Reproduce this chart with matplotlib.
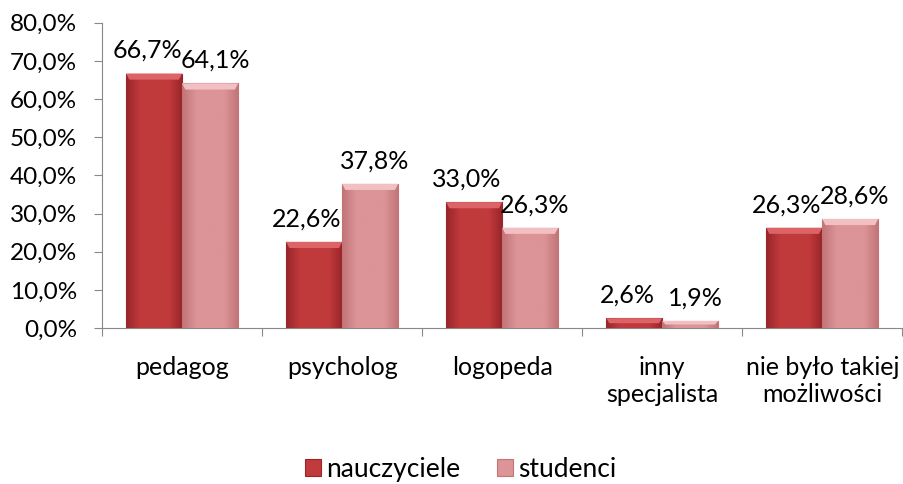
import numpy as np
import matplotlib.pyplot as plt
from matplotlib.ticker import FuncFormatter
from matplotlib.colors import LinearSegmentedColormap

plt.rcParams['font.family'] = ['Lato', 'DejaVu Sans']

kategorie = ['pedagog', 'psycholog', 'logopeda', 'inny\nspecjalista', 'nie było takiej\nmożliwości']
nauczyciele = [66.7, 22.6, 33.0, 2.6, 26.3]
studenci = [64.1, 37.8, 26.3, 1.9, 28.6]

fig = plt.figure(figsize=(9.04, 4.84), dpi=100)
ax = fig.add_axes([0.113, 0.322, 0.885, 0.631])

x = np.arange(len(kategorie))
w = 0.35

# (kolor glowny, kolor brzegu, kolor fazy u gory, przesuniecie etykiety)
style = [('#c13a3c', '#98262a', '#dc6466', -0.045),
         ('#dc9497', '#c27477', '#f2c0c2', 0.03)]
serie = [(nauczyciele, 'nauczyciele'), (studenci, 'studenci')]

grad = np.concatenate([np.linspace(0, 1, 20), np.linspace(1, 0, 20)])[None, :]

for k, (seria, nazwa) in enumerate(serie):
    kol, brzeg, jasny, dx = style[k]
    cmap = LinearSegmentedColormap.from_list('g%d' % k, [brzeg, kol, kol])
    pos = x - w / 2 + k * w
    bary = ax.bar(pos, seria, width=w, color=kol, edgecolor=brzeg, linewidth=0.8,
                  label=nazwa, zorder=3)
    for b in bary:
        x0, y0 = b.get_x(), b.get_y()
        bw, bh = b.get_width(), b.get_height()
        im = ax.imshow(grad, cmap=cmap, extent=(x0, x0 + bw, y0, y0 + bh),
                       aspect='auto', zorder=3.5, interpolation='bicubic')
        im.set_clip_path(b)
        # faza u gory slupka
        fz = min(1.6, bh * 0.5)
        ins = 0.02
        ax.fill([x0, x0 + bw, x0 + bw - ins, x0 + ins],
                [y0 + bh, y0 + bh, y0 + bh - fz, y0 + bh - fz],
                color=jasny, linewidth=0, zorder=4)
    for p, v in zip(pos, seria):
        ax.text(p + dx, v + 3.0, f'{v:.1f}%'.replace('.', ','), ha='center', va='bottom',
                fontsize=18, zorder=5)

ax.set_xlim(-0.5, len(kategorie) - 0.5)
ax.set_ylim(0, 80)
ax.set_yticks(np.arange(0, 81, 10))
ax.yaxis.set_major_formatter(FuncFormatter(lambda v, p: f'{v:.1f}%'.replace('.', ',')))
ax.set_xticks(np.arange(-0.5, len(kategorie), 1))
ax.set_xticklabels([])
ax.set_xticks(x, minor=True)
ax.set_xticklabels(kategorie, minor=True, fontsize=18, linespacing=1.2)
ax.tick_params(axis='x', which='minor', length=0, pad=20)
ax.tick_params(axis='x', which='major', length=6, color='#888888', direction='out')
ax.tick_params(axis='y', length=6, color='#888888', labelsize=17.5, pad=12)

for s in ['top', 'right']:
    ax.spines[s].set_visible(False)
ax.spines['left'].set_color('#888888')
ax.spines['bottom'].set_color('#888888')

fig.legend(loc='lower center', bbox_to_anchor=(0.51, -0.045), ncol=2, frameon=False, fontsize=19,
           handlelength=0.6, handleheight=0.6, handletextpad=0.2, columnspacing=1.4)

fig.savefig('out.png', dpi=100)
